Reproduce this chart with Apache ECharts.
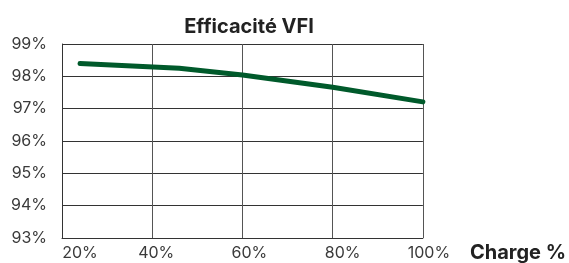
<!DOCTYPE html>
<html><head><meta charset="utf-8">
<script src="https://cdn.jsdelivr.net/npm/echarts@6/dist/echarts.min.js"></script>
<style>html,body{margin:0;padding:0;background:#fff}#c{width:569px;height:263px}</style>
</head><body><div id="c"></div>
<script>
const chartTitle = 'Efficacité VFI';
const xAxisName = 'Charge %';
const loadPct = [24, 46, 60, 80, 100];
const efficiencyPct = [98.40, 98.25, 98.04, 97.66, 97.21];
const yTicks = [93, 94, 95, 96, 97, 98, 99];
const xTicks = [20, 40, 60, 80, 100];

const labelFont = { fontFamily: 'Inter', fontSize: 16, color: '#3a3a3a' };
const richKeys = ['p0', 'p1', 'p2', 'p3', 'p4'];
const richPads = [36, 8, 14, 20, 12];
const rich = {};
richKeys.forEach((k, i) => { rich[k] = Object.assign({ padding: [0, 0, 0, richPads[i]] }, labelFont); });

const chart = echarts.init(document.getElementById('c'));
chart.setOption({
  animation: false,
  backgroundColor: '#fff',
  title: { text: chartTitle, left: 244, top: 12, textAlign: 'center',
    textStyle: { fontFamily: 'Inter', fontWeight: 'bold', fontSize: 20, color: '#222' } },
  grid: { left: 62, right: 144, top: 44, bottom: 23, containLabel: false },
  xAxis: {
    type: 'value', min: xTicks[0], max: xTicks[xTicks.length - 1], interval: 20,
    name: xAxisName, nameLocation: 'end', nameGap: 47,
    nameTextStyle: { fontFamily: 'Inter', fontWeight: 'bold', fontSize: 20, color: '#222', verticalAlign: 'top', padding: [5, 0, 0, 0] },
    axisLine: { show: true, lineStyle: { color: '#333', width: 1 } },
    axisTick: { show: false },
    splitLine: { show: true, lineStyle: { color: '#555', width: 1 } },
    axisLabel: Object.assign({ margin: 7,
      formatter: v => '{' + richKeys[xTicks.indexOf(v)] + '|' + v + '%}', rich }, labelFont)
  },
  yAxis: {
    type: 'value', min: yTicks[0], max: yTicks[yTicks.length - 1], interval: 1,
    axisLine: { show: true, lineStyle: { color: '#333', width: 1 } },
    axisTick: { show: false },
    splitLine: { show: true, lineStyle: { color: '#333', width: 1 } },
    axisLabel: Object.assign({ margin: 15, formatter: v => v + '%' }, labelFont)
  },
  series: [{
    type: 'line', data: loadPct.map((x, i) => [x, efficiencyPct[i]]),
    showSymbol: false, smooth: false,
    lineStyle: { color: '#005a2b', width: 5, cap: 'round', join: 'round' }
  }]
});
</script></body></html>
